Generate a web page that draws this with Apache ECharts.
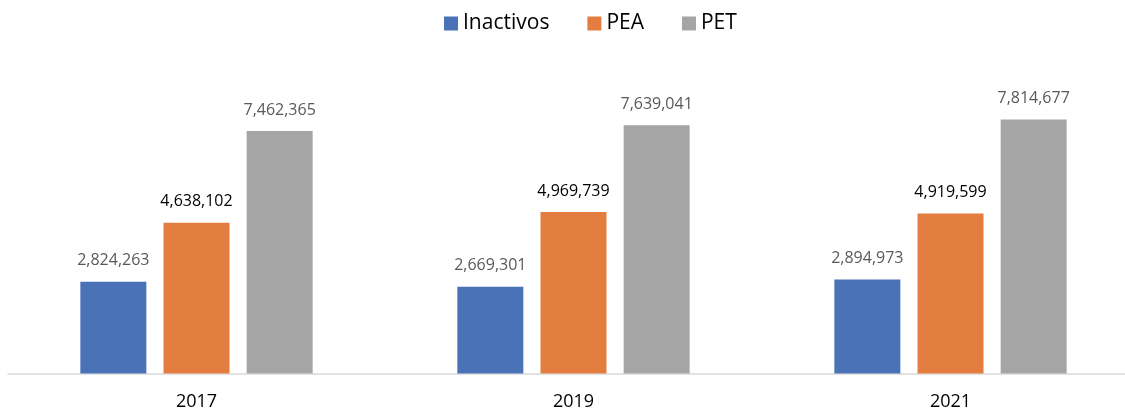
<!DOCTYPE html>
<html>
<head>
<meta charset="utf-8">
<script src="https://cdn.jsdelivr.net/npm/echarts@6/dist/echarts.min.js"></script>
<style>
  html, body { margin: 0; padding: 0; background: #fff; }
  #chart { width: 1125px; height: 408px; }
</style>
</head>
<body>
<div id="chart"></div>
<script>
// Population by activity status, survey years
const years = ['2017', '2019', '2021'];
const inactivos = [2824263, 2669301, 2894973];
const pea = [4638102, 4969739, 4919599];
const pet = [7462365, 7639041, 7814677];

const FONT = '"Open Sans", "Liberation Sans", sans-serif';
const fmt = v => v.toLocaleString('en-US');

function barSeries(name, data, color, labelColor) {
  return {
    name: name,
    type: 'bar',
    data: data,
    barWidth: 66,
    barGap: '26%',
    itemStyle: { color: color },
    label: {
      show: true,
      position: 'top',
      distance: 13,
      color: labelColor,
      fontFamily: FONT,
      fontSize: 16,
      formatter: p => fmt(p.value)
    }
  };
}

const chart = echarts.init(document.getElementById('chart'), null, { renderer: 'canvas' });
chart.setOption({
  animation: false,
  backgroundColor: '#ffffff',
  legend: {
    top: 8,
    left: 439,
    icon: 'rect',
    itemWidth: 14,
    itemHeight: 14,
    itemGap: 38,
    textStyle: { fontFamily: FONT, fontSize: 21, color: '#000' },
    data: ['Inactivos', 'PEA', 'PET']
  },
  grid: {
    left: 8, right: -14, top: 48.5, bottom: 34.5,
    containLabel: false,
    outerBoundsMode: 'none'
  },
  xAxis: {
    type: 'category',
    data: years,
    axisLine: { show: true, lineStyle: { color: '#d9d9d9', width: 1.5 } },
    axisTick: { show: false },
    axisLabel: { color: '#000', fontFamily: FONT, fontSize: 18, margin: 19 }
  },
  yAxis: {
    type: 'value',
    min: 0,
    max: 10000000,
    show: false,
    splitLine: { show: false }
  },
  series: [
    barSeries('Inactivos', inactivos, '#4A72B7', '#595959'),
    barSeries('PEA', pea, '#E47E40', '#000000'),
    barSeries('PET', pet, '#A5A5A5', '#595959')
  ]
});
</script>
</body>
</html>
